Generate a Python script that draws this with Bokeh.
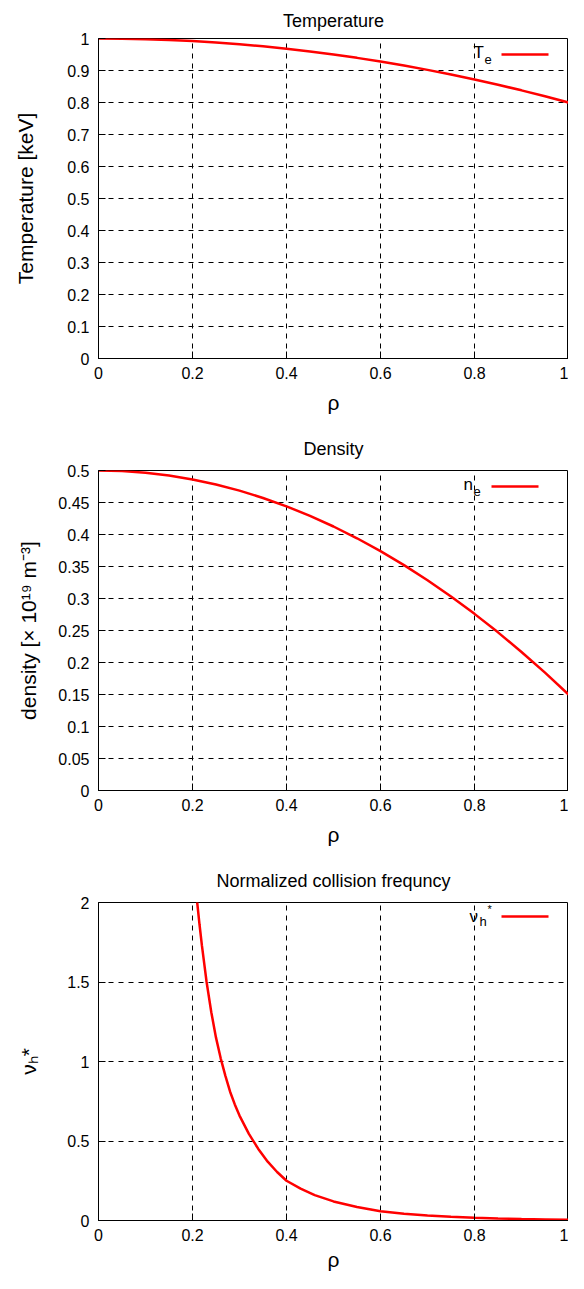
from bokeh.plotting import figure
from bokeh.layouts import column
from bokeh.models import Range1d, FixedTicker, NumeralTickFormatter, Label, Arrow
from bokeh.embed import file_html
from bokeh.resources import INLINE

FONT = "Liberation Sans"

# ---- data ----
rho = [0.0, 0.05, 0.1, 0.15, 0.2, 0.25, 0.3, 0.35, 0.4, 0.45, 0.5,
       0.55, 0.6, 0.65, 0.7, 0.75, 0.8, 0.85, 0.9, 0.95, 1.0]
te = [1.0, 0.9995, 0.998, 0.9955, 0.992, 0.9875, 0.982, 0.9755, 0.968, 0.9595, 0.95,
      0.9395, 0.928, 0.9155, 0.902, 0.8875, 0.872, 0.8555, 0.838, 0.8195, 0.8]
ne = [0.5, 0.4991, 0.4965, 0.4921, 0.486, 0.4781, 0.4685, 0.4571, 0.444, 0.4291, 0.4125,
      0.3941, 0.374, 0.3521, 0.3285, 0.3031, 0.276, 0.2471, 0.2165, 0.1841, 0.15]
rho_nu = [0.2, 0.205, 0.21, 0.215, 0.22, 0.23, 0.24, 0.25, 0.26, 0.27, 0.28, 0.29, 0.3,
          0.32, 0.34, 0.36, 0.38, 0.4, 0.43, 0.46, 0.5, 0.55, 0.6, 0.65, 0.7, 0.75,
          0.8, 0.85, 0.9, 0.95, 1.0]
nu = [2.35, 2.17, 2.0, 1.86, 1.73, 1.5, 1.31, 1.15, 1.02, 0.91, 0.81, 0.73, 0.66,
      0.545, 0.45, 0.37, 0.305, 0.25, 0.2, 0.16, 0.12, 0.085, 0.058, 0.042,
      0.031, 0.023, 0.017, 0.012, 0.009, 0.007, 0.005]

x_ticks = [0, 0.2, 0.4, 0.6, 0.8, 1]
te_ticks = [0, 0.1, 0.2, 0.3, 0.4, 0.5, 0.6, 0.7, 0.8, 0.9, 1]
ne_ticks = [0, 0.05, 0.1, 0.15, 0.2, 0.25, 0.3, 0.35, 0.4, 0.45, 0.5]
nu_ticks = [0, 0.5, 1, 1.5, 2]

W = 568
FRAME_H = 320
RIGHT = 0
RIGHT_RESERVED = 10   # room Bokeh keeps for the last x tick label


def make(title, ylabel, x, y, yticks, ymax, height, top, bottom, left,
         title_standoff, ylab_standoff, xlab_standoff, legend_parts):
    p = figure(width=W, height=height, output_backend="svg", toolbar_location=None,
               x_range=Range1d(0, 1), y_range=Range1d(0, ymax),
               min_border_left=left, min_border_right=RIGHT,
               min_border_top=top, min_border_bottom=bottom,
               background_fill_color="white", border_fill_color="white")
    p.title.text = title
    p.title.align = "center"
    p.title.text_font = FONT
    p.title.text_font_size = "18px"
    p.title.text_font_style = "normal"
    p.title.text_color = "black"
    p.title.standoff = title_standoff

    p.line(x, y, line_color="#ff0000", line_width=2.5)

    p.outline_line_color = "black"
    p.outline_line_width = 1
    p.outline_line_alpha = 1

    p.xaxis.ticker = FixedTicker(ticks=x_ticks)
    p.yaxis.ticker = FixedTicker(ticks=yticks)
    for ax in (p.xaxis, p.yaxis):
        ax.formatter = NumeralTickFormatter(format="0.[00]")
        ax.major_tick_in = 7
        ax.major_tick_out = 0
        ax.minor_tick_line_color = None
        ax.axis_line_color = "black"
        ax.major_tick_line_color = "black"
        ax.major_label_text_font = FONT
        ax.major_label_text_font_size = "16px"
        ax.major_label_text_color = "black"
        ax.axis_label_text_font = FONT
        ax.axis_label_text_font_size = "21px"
        ax.axis_label_text_font_style = "normal"
        ax.axis_label_text_color = "black"
    p.xaxis.axis_label = "ρ"
    p.xaxis.major_label_standoff = 8
    p.xaxis.axis_label_standoff = xlab_standoff
    p.yaxis.axis_label = ylabel
    p.yaxis.major_label_standoff = 9
    p.yaxis.axis_label_standoff = ylab_standoff

    for g in (p.xgrid, p.ygrid):
        g.grid_line_color = "black"
        g.grid_line_width = 1
        g.grid_line_dash = "5 5"
        g.grid_line_alpha = 1
    p.xgrid.ticker = FixedTicker(ticks=x_ticks)
    p.ygrid.ticker = FixedTicker(ticks=yticks)

    # gnuplot-style key: label text, then line sample (top right, inside)
    fw = W - left - RIGHT - RIGHT_RESERVED
    ly = FRAME_H - 16
    for txt, dx, dy, size in legend_parts:
        p.add_layout(Label(x=fw - 95 + dx, y=ly + dy, x_units="screen", y_units="screen",
                           text=txt, text_font=FONT, text_font_size=size,
                           text_color="black", text_baseline="middle", text_align="left"))
    p.add_layout(Arrow(x_start=fw - 67, y_start=ly, x_end=fw - 20, y_end=ly,
                       start_units="screen", end_units="screen", end=None,
                       line_color="#ff0000", line_width=2.5))
    return p


p1 = make("Temperature", "Temperature [keV]", rho, te, te_ticks, 1.0,
          424, 38, 66, 88, 16, 27, 9,
          [("T", 0, 2, "17px"), ("e", 11, -5, "13px")])
p2 = make("Density", "density [× 10¹⁹ m⁻³]", rho, ne, ne_ticks, 0.5,
          432, 46, 66, 98, 24, 15, 9,
          [("n", 0, 2, "17px"), ("e", 10, -5, "13px")])
p3 = make("Normalized collision frequncy", "νₕ*", rho_nu, nu, nu_ticks, 2.0,
          417, 46, 51, 88, 24, 24, 4,
          [("ν", -4, 0, "17px"), ("h", 6, -5, "13px"), ("*", 14, 8, "11px")])

layout = column(p1, p2, p3, spacing=0)
open("out.html", "w").write(file_html(layout, INLINE))
